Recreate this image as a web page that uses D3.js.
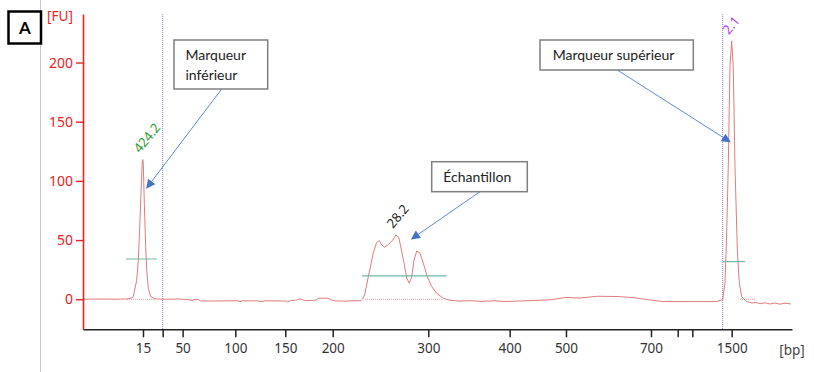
<!DOCTYPE html>
<html><head><meta charset="utf-8">
<script src="https://cdn.jsdelivr.net/npm/d3@7"></script>
<style>
html,body{margin:0;padding:0;background:#fff;}
svg{display:block;}
</style></head>
<body>
<svg id="chart" width="814" height="372"></svg>
<script>
// ---------- DATA ----------
// migration position (0..100 arbitrary units) of each ladder tick, and its label
const ladderPos    = [8.46, 11.24, 14.05, 21.48, 28.53, 35.22, 48.70, 60.18, 68.12, 80.11, 83.88, 85.94, 91.49];
const ladderLabels = ["15", "", "50", "100", "150", "200", "300", "400", "500", "700", "", "", "1500"];
const yTicks = [0, 50, 100, 150, 200];

// electropherogram trace: position and fluorescence [FU]
const tracePos = [0.00,2.40,4.51,6.35,6.77,7.09,7.57,7.80,8.04,8.22,8.36,8.43,8.50,8.65,8.84,8.98,9.21,9.55,10.16,11.57,
  13.68,15.09,15.37,15.66,16.22,16.64,18.62,21.86,22.14,22.43,24.68,25.25,25.67,28.59,28.87,29.31,30.03,30.61,31.03,31.45,
  32.86,33.15,34.56,34.98,35.54,36.95,38.36,39.21,39.53,39.77,40.24,40.94,41.42,41.79,42.13,42.50,43.06,43.68,44.15,44.53,
  44.81,45.28,45.66,46.02,46.36,46.69,47.07,47.53,48.00,48.56,49.18,49.89,50.82,51.76,53.17,54.58,55.99,58.11,59.52,61.63,
  63.75,65.87,68.12,70.10,72.50,75.32,77.57,79.97,81.81,85.61,89.38,90.22,90.55,90.79,91.01,91.25,91.49,91.72,91.96,92.29,
  92.57,92.91,93.61,94.36,94.92,95.49,96.19,96.90,97.60,98.31,99.01,99.86];
const traceFU = [0,0.2,0,0.3,1,2.2,16,33,67,95,116,118,115,81,44.5,24.8,9.3,2.2,0.3,0,
  0.2,-0.5,-1.2,-0.3,-0.2,-1.5,-1.5,-1.3,-2.2,-1.3,-1.4,-2.2,-1.3,-1.5,-2.3,-1.2,-0.8,0.3,-0.6,-1.2,
  -0.8,0.8,0.9,-0.5,-1.4,-1.6,-1.3,-1.2,1,5,19,39,48,49.5,46,44,46,50,54.3,52.4,
  44.5,30.4,17.8,13.5,19,33,40.8,38.9,30.4,19,10.7,5,0.8,-0.8,-1.6,-1.2,-1.8,-1.3,-1.9,-1.5,
  -1.0,-0.5,1.5,1.0,2.5,2.3,1.4,-0.6,-2,-2,-2,-0.3,13.7,56,112,196.6,218,196.6,112,41.7,
  13.5,2.2,-2,-3.2,-2.6,-3.8,-3.0,-4,-3.2,-4.2,-3.3,-4];

// peak labels
const peakNames   = ["424.2", "28.2", "2.1"];
const peakPos     = [8.43, 44.15, 91.49];
const peakHeights = [118, 54.3, 218];
const peakColors  = ["#2f9a2f", "#222222", "#b040f0"];

// peak integration level lines and baselines
const levelStart = [6.06, 39.35, 90.22];
const levelEnd   = [10.44, 51.30, 93.37];
const levelFU    = [34, 19.7, 31.8];
const baseStart  = [6.2, 39.77, 92.67];
const baseEnd    = [10.4, 50.77, 94.8];

// markers (vertical dotted lines)
const markerPos = [11.24, 90.22];

// annotations
const annoTexts  = [["Marqueur", "inférieur"], ["Échantillon"], ["Marqueur supérieur"]];
const annoTipPos = [8.99, 46.36, 91.26];
const annoTipFU  = [94, 51, 133];

// ---------- DRAWING ----------
const svg = d3.select("#chart");
const x = d3.scaleLinear().domain([0, 100]).range([83, 792]);
const y = d3.scaleLinear().domain([-25.4, 241]).range([329.3, 14]);

// left gray rule
svg.append("line").attr("x1", 40.5).attr("x2", 40.5).attr("y1", 0).attr("y2", 372)
  .attr("stroke", "#c8c8c8").attr("stroke-width", 1);

// "A" box
svg.append("rect").attr("x", 8.5).attr("y", 11.5).attr("width", 32.5).attr("height", 32)
  .attr("fill", "#fff").attr("stroke", "#000").attr("stroke-width", 2.5);
svg.append("text").attr("x", 24.8).attr("y", 33.5).attr("text-anchor", "middle")
  .attr("font-family", "Lato, 'Open Sans', sans-serif").attr("font-weight", "bold")
  .attr("font-size", 17).attr("fill", "#000").text("A");

// marker dotted lines
svg.selectAll("line.marker").data(markerPos).join("line").attr("class", "marker")
  .attr("x1", d => x(d)).attr("x2", d => x(d)).attr("y1", y.range()[1]).attr("y2", y.range()[0])
  .attr("stroke", "#8080e0").attr("stroke-width", 1).attr("stroke-dasharray", "1,1");

// baselines (dotted)
svg.selectAll("line.base").data(baseStart).join("line").attr("class", "base")
  .attr("x1", d => x(d)).attr("x2", (d, i) => x(baseEnd[i]))
  .attr("y1", y(0)).attr("y2", y(0))
  .attr("stroke", "#e89a9a").attr("stroke-width", 1).attr("stroke-dasharray", "1,1");

// trace
const pts = tracePos.map((p, i) => [p, traceFU[i]]);
svg.append("path").datum(pts)
  .attr("d", d3.line().x(d => x(d[0])).y(d => y(d[1])))
  .attr("fill", "none").attr("stroke", "#e27b7b").attr("stroke-width", 1);

// level lines
svg.selectAll("line.level").data(levelStart).join("line").attr("class", "level")
  .attr("x1", d => x(d)).attr("x2", (d, i) => x(levelEnd[i]))
  .attr("y1", (d, i) => y(levelFU[i])).attr("y2", (d, i) => y(levelFU[i]))
  .attr("stroke", "#6fb8a8").attr("stroke-width", 1.2);

// Y axis
const yAxis = svg.append("g").attr("transform", `translate(${x(0)},0)`)
  .call(d3.axisLeft(y).tickValues(yTicks).tickSize(7).tickPadding(3).tickSizeOuter(0));
yAxis.select(".domain").attr("stroke", "#ee2222").attr("stroke-width", 1.6);
yAxis.selectAll(".tick line").attr("stroke", "#ee2222").attr("stroke-width", 1.4);
yAxis.selectAll(".tick text").attr("fill", "#ee2222")
  .attr("font-family", "'Noto Sans', sans-serif").attr("font-size", 14);

svg.append("text").attr("x", 60).attr("y", 21).attr("text-anchor", "middle")
  .attr("font-family", "'Noto Sans', sans-serif").attr("font-size", 13.5)
  .attr("fill", "#ee2222").text("[FU]");

// X axis
const xAxis = svg.append("g").attr("transform", `translate(0,${y.range()[0]})`)
  .call(d3.axisBottom(x).tickValues(ladderPos).tickFormat((d, i) => ladderLabels[i])
    .tickSize(8).tickPadding(6).tickSizeOuter(0));
xAxis.select(".domain").attr("stroke", "#222").attr("stroke-width", 1.5);
xAxis.selectAll(".tick line").attr("stroke", "#222").attr("stroke-width", 1.5);
xAxis.selectAll(".tick text").attr("fill", "#333")
  .attr("font-family", "'Noto Sans', sans-serif").attr("font-size", 13.5);

svg.append("text").attr("x", 792).attr("y", 355).attr("text-anchor", "middle")
  .attr("font-family", "'Noto Sans', sans-serif").attr("font-size", 13.5)
  .attr("fill", "#444").text("[bp]");

// peak labels (rotated)
svg.selectAll("text.peak").data(peakNames).join("text").attr("class", "peak")
  .attr("transform", (d, i) => `translate(${x(peakPos[i]) - 3},${y(peakHeights[i]) - 6}) rotate(-50)`)
  .attr("font-family", "'Noto Sans', sans-serif").attr("font-size", 13)
  .attr("fill", (d, i) => peakColors[i]).text(d => d);

// annotation arrows
const defs = svg.append("defs");
defs.append("marker").attr("id", "arr").attr("viewBox", "0 0 10 10")
  .attr("refX", 9).attr("refY", 5).attr("markerWidth", 11).attr("markerHeight", 9)
  .attr("markerUnits", "userSpaceOnUse").attr("orient", "auto")
  .append("path").attr("d", "M0,0 L10,5 L0,10 Z").attr("fill", "#4472c4");

const boxes = [
  {x: 174, y: 40, w: 93.7, h: 49, tx: 185.5, ty: [60, 80], ax: 221.7},
  {x: 431.7, y: 161.7, w: 95.6, h: 30, tx: 443.3, ty: [181.7], ax: 480},
  {x: 540, y: 40, w: 153.3, h: 30, tx: 552.7, ty: [60], ax: 617.3}
];

boxes.forEach((b, i) => {
  svg.append("line").attr("x1", b.ax).attr("y1", b.y + b.h)
    .attr("x2", x(annoTipPos[i])).attr("y2", y(annoTipFU[i]))
    .attr("stroke", "#5b8ad6").attr("stroke-width", 1).attr("marker-end", "url(#arr)");
});
boxes.forEach((b, i) => {
  svg.append("rect").attr("x", b.x).attr("y", b.y).attr("width", b.w).attr("height", b.h)
    .attr("fill", "#fff").attr("stroke", "#7f7f7f").attr("stroke-width", 1.5);
  annoTexts[i].forEach((t, j) => {
    svg.append("text").attr("x", b.tx).attr("y", b.ty[j])
      .attr("font-family", "Lato, 'Open Sans', sans-serif").attr("font-size", 14)
      .attr("fill", "#222").text(t);
  });
});
</script>
</body></html>
